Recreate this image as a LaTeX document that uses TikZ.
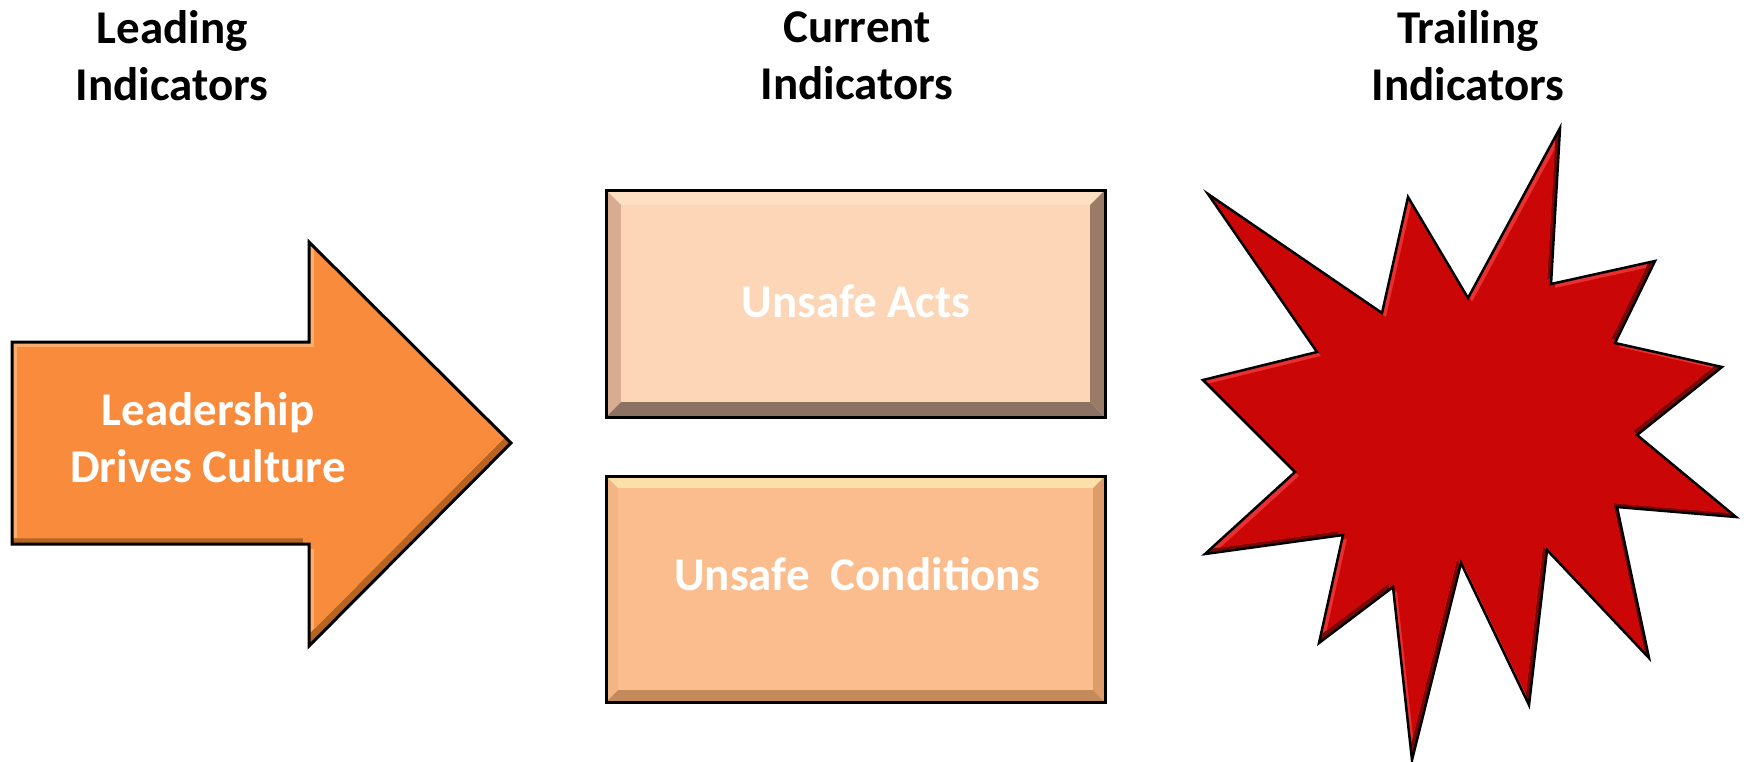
\documentclass[tikz,border=0pt]{standalone}
\usepackage{fontspec}
\setmainfont{Carlito}
\definecolor{arrbase}{HTML}{F98B3D}
\definecolor{arrlight}{HTML}{FBAE6E}
\definecolor{arrdark}{HTML}{B8641F}
\definecolor{stbase}{HTML}{CB0606}
\definecolor{stlight}{HTML}{E83030}
\definecolor{stdark}{HTML}{7A0606}
\definecolor{aabase}{HTML}{FCD6B6}
\definecolor{aatop}{HTML}{FDDFC2}
\definecolor{aaleft}{HTML}{D8AC90}
\definecolor{aaright}{HTML}{9A7B66}
\definecolor{aabot}{HTML}{8B7262}
\definecolor{ucbase}{HTML}{FBBD8E}
\definecolor{uctop}{HTML}{FDE0A9}
\definecolor{ucleft}{HTML}{F4B585}
\definecolor{ucright}{HTML}{DE9C6A}
\definecolor{ucbot}{HTML}{C48A5C}
\begin{document}
\begin{tikzpicture}[x=1pt,y=-1pt,
  titletext/.style={font=\bfseries\fontsize{47}{57}\selectfont, align=center, text=black, inner sep=0pt},
  intext/.style={font=\bfseries\fontsize{47}{57}\selectfont, align=center, text=white, inner sep=0pt},
  outline/.style={draw=black, line width=3pt, line join=miter},
  arrowshape/.style={insert path={(12,342) -- (309,342) -- (309,242) -- (511,443) -- (309,646) -- (309,544) -- (12,544) -- cycle}},
  starshape/.style={insert path={(1208,194) -- (1382,313) -- (1408,197) -- (1468,298) -- (1560,128) -- (1551,284) -- (1655,261) -- (1615,343) -- (1722,367) -- (1637,435) -- (1736,517) -- (1617,507) -- (1649,658) -- (1547,550) -- (1529,705) -- (1461,563) -- (1412,760) -- (1393,587) -- (1319,643) -- (1343,535) -- (1205,554) -- (1295,472) -- (1203,380) -- (1317,352) -- cycle}}
]
\useasboundingbox (0,0) rectangle (1744,761);

% ---- titles
\node[titletext] (leadtitle) at (172,56) {Leading\\Indicators};
\node[titletext] (curtitle) at (857,56) {Current\\Indicators};
\node[titletext] (trailtitle) at (1468,56) {Trailing\\Indicators};

% ---- arrow
\begin{scope}
  \clip[arrowshape];
  \fill[arrdark, arrowshape];
  \fill[arrlight, shift={(-6,-6)}, arrowshape];
  \begin{scope}
    \clip[shift={(-6,-6)}, arrowshape];
    \fill[arrbase, shift={(5,5)}, arrowshape];
  \end{scope}
\end{scope}
\path[outline, arrowshape];
\node[intext] (lead) at (208,438) {Leadership\\Drives Culture};

% ---- box 1: Unsafe Acts
\fill[aatop] (606,190) -- (1105,190) -- (1090,205) -- (621,205) -- cycle;
\fill[aaleft] (606,190) -- (621,205) -- (621,402) -- (606,417) -- cycle;
\fill[aaright] (1105,190) -- (1105,417) -- (1090,402) -- (1090,205) -- cycle;
\fill[aabot] (606,417) -- (621,402) -- (1090,402) -- (1105,417) -- cycle;
\fill[aabase] (621,205) rectangle (1090,402);
\draw[outline] (606,190) rectangle (1105,417);
\node[intext] (acts) at (856,301) {Unsafe Acts};

% ---- box 2: Unsafe Conditions
\fill[uctop] (606,476) -- (1105,476) -- (1093,488) -- (618,488) -- cycle;
\fill[ucleft] (606,476) -- (618,488) -- (618,690) -- (606,702) -- cycle;
\fill[ucright] (1105,476) -- (1105,702) -- (1093,690) -- (1093,488) -- cycle;
\fill[ucbot] (606,702) -- (618,690) -- (1093,690) -- (1105,702) -- cycle;
\fill[ucbase] (618,488) rectangle (1093,690);
\draw[outline] (606,476) rectangle (1105,702);
\node[intext] (conds) at (857,574) {Unsafe\ \ Conditions};

% ---- star
\begin{scope}
  \clip[starshape];
  \fill[stdark, starshape];
  \fill[stlight, shift={(-4,-4)}, starshape];
  \begin{scope}
    \clip[shift={(-4,-4)}, starshape];
    \fill[stbase, shift={(4,4)}, starshape];
  \end{scope}
\end{scope}
\path[outline, line width=2.5pt, starshape];
\end{tikzpicture}
\end{document}
